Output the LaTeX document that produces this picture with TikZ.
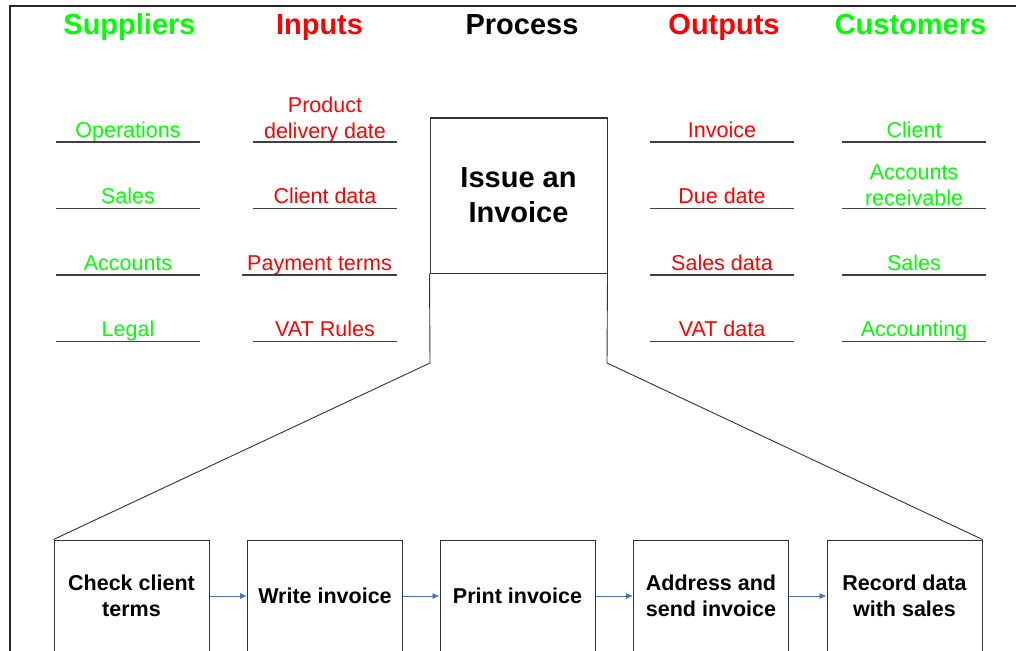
\documentclass[tikz,border=0pt]{standalone}
\usepackage{fontspec}
\setmainfont{Liberation Sans}
\usetikzlibrary{arrows.meta}
\definecolor{grn}{RGB}{0,255,0}
\definecolor{rd}{RGB}{255,0,0}
\definecolor{arr}{RGB}{68,114,196}
\begin{document}
\begin{tikzpicture}[x=1pt,y=-1pt,
  hdr/.style={font=\fontsize{29}{35}\selectfont\bfseries, anchor=base, inner sep=0pt},
  item/.style={font=\fontsize{21.5}{26}\selectfont, anchor=base, inner sep=0pt, align=center},
  uline/.style={draw=black!75, line width=1.2pt},
  procbox/.style={draw=black!80, line width=1pt, minimum width=155pt, minimum height=112pt,
     font=\fontsize{21.5}{26}\selectfont\bfseries, align=center, inner sep=0pt},
  flow/.style={draw=arr, line width=0.9pt, -{Latex[length=7pt,width=6pt]}},
  thin/.style={draw=black, line width=0.9pt}]
\useasboundingbox (0,0) rectangle (1016,650);
\clip (0,0) rectangle (1016,650);
\fill[white] (0,0) rectangle (1016,650);
% frame
\draw[line width=1.3pt, black!85] (10,700) -- (10,6) -- (1030,6);
% headers
\node[hdr, text=grn] (hS) at (129.5,35) {Suppliers};
\node[hdr, text=rd]  (hI) at (319.5,35) {Inputs};
\node[hdr, text=black] (hP) at (522,35) {Process};
\node[hdr, text=rd]  (hO) at (724,35) {Outputs};
\node[hdr, text=grn] (hC) at (910.5,35) {Customers};
% suppliers
\node[item, text=grn] (s1) at (128,137) {Operations};
\node[item, text=grn] (s2) at (128,203) {Sales};
\node[item, text=grn] (s3) at (128,270) {Accounts};
\node[item, text=grn] (s4) at (128,336) {Legal};
\foreach \yy in {142,208.5,275,341.5} \draw[uline] (56,\yy) -- (200,\yy);
% inputs
\node[item, text=rd] (i1) at (325,139) {Product\\delivery date};
\node[item, text=rd] (i2) at (325,203) {Client data};
\node[item, text=rd] (i3) at (319.5,270) {Payment terms};
\node[item, text=rd] (i4) at (325,336) {VAT Rules};
\draw[uline] (253,142) -- (397,142);
\draw[uline] (253,208.5) -- (397,208.5);
\draw[uline] (242,275) -- (397,275);
\draw[uline] (253,341.5) -- (397,341.5);
% outputs
\node[item, text=rd] (o1) at (722,137) {Invoice};
\node[item, text=rd] (o2) at (722,203) {Due date};
\node[item, text=rd] (o3) at (722,270) {Sales data};
\node[item, text=rd] (o4) at (722,336) {VAT data};
\foreach \yy in {142,208.5,275,341.5} \draw[uline] (650,\yy) -- (794,\yy);
% customers
\node[item, text=grn] (c1) at (914,137) {Client};
\node[item, text=grn] (c2) at (914,205) {Accounts\\receivable};
\node[item, text=grn] (c3) at (914,270) {Sales};
\node[item, text=grn] (c4) at (914,336) {Accounting};
\foreach \yy in {142,208.5,275,341.5} \draw[uline] (842,\yy) -- (986,\yy);
% process box
\node[draw=black!80, line width=1pt, minimum width=177pt, minimum height=155pt, inner sep=0pt,
  font=\fontsize{29}{35}\selectfont\bfseries, align=center] (issue) at (518.5,195.5) {Issue an\\Invoice};
% bottom boxes
\node[procbox] (b1) at (131.5,596) {Check client\\terms};
\node[procbox] (b2) at (325,596) {Write invoice};
\node[procbox] (b3) at (517.5,596) {Print invoice};
\node[procbox] (b4) at (711,596) {Address and\\send invoice};
\node[procbox] (b5) at (904.5,596) {Record data\\with sales};
\draw[flow] (b1) -- (b2);
\draw[flow] (b2) -- (b3);
\draw[flow] (b3) -- (b4);
\draw[flow] (b4) -- (b5);
% expansion lines
\coordinate (kl) at (430,363);
\coordinate (kr) at (607,363);
\draw[thin, draw=black!80] (issue.south west) -- (kl) -- (b1.north west);
\draw[thin, draw=black!80] (issue.south east) -- (kr) -- (b5.north east);
\end{tikzpicture}
\end{document}
